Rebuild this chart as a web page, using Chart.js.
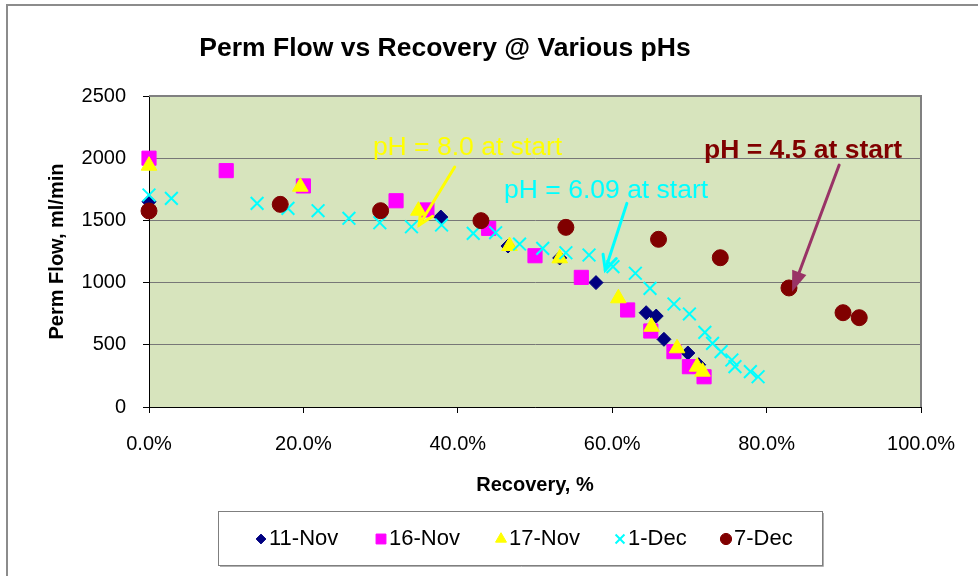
<!DOCTYPE html>
<html>
<head>
<meta charset="utf-8">
<script src="https://cdn.jsdelivr.net/npm/chart.js@4/dist/chart.umd.min.js"></script>
<style>
  body { margin: 0; background: #fff; }
  canvas { display: block; }
</style>
</head>
<body>
<canvas id="permChart" width="978" height="576"></canvas>
<script>
// Recovery (%) and permeate flow (ml/min) for each run
const rec11Nov  = [0, 37.8, 46.5, 53.2, 57.9, 64.4, 65.7, 66.7, 69.8, 71.2];
const flow11Nov = [1650, 1527, 1294, 1198, 1000, 758, 731, 544, 434, 340];

const rec16Nov  = [0, 10.0, 20.0, 32.0, 36.0, 44.0, 50.0, 56.0, 62.0, 65.0, 68.0, 70.0, 71.9];
const flow16Nov = [2000, 1900, 1777, 1658, 1584, 1436, 1216, 1042, 780, 611, 445, 324, 243];

const rec17Nov  = [0, 19.6, 34.9, 46.7, 53.2, 60.8, 65.1, 68.4, 71.0, 71.7];
const flow17Nov = [1940, 1771, 1578, 1294, 1195, 874, 645, 472, 324, 284];

const rec1Dec  = [0, 2.9, 14.0, 18.0, 21.9, 25.9, 29.9, 34.0, 37.9, 42.0, 44.9, 48.0, 51.0, 54.0,
                  57.0, 60.1, 63.0, 64.9, 68.0, 70.0, 72.0, 73.0, 74.1, 75.5, 75.9, 77.9, 78.9];
const flow1Dec = [1704, 1677, 1637, 1597, 1578, 1517, 1481, 1449, 1463, 1396, 1401, 1310, 1275, 1240,
                  1222, 1128, 1075, 954, 828, 748, 600, 512, 445, 378, 324, 284, 243];

const rec7Dec  = [0, 17.0, 30.0, 43.0, 54.0, 66.0, 74.0, 82.9, 89.9, 92.0];
const flow7Dec = [1576, 1629, 1578, 1498, 1444, 1348, 1200, 957, 758, 718];

const seriesNames = ["11-Nov", "16-Nov", "17-Nov", "1-Dec", "7-Dec"];
const xTicks = [0, 20, 40, 60, 80, 100];
const yTicks = [0, 500, 1000, 1500, 2000, 2500];

// notes: text, where the text starts and where the arrow goes (data units)
const noteTexts  = ["pH = 8.0 at start", "pH = 6.09 at start", "pH = 4.5 at start"];
const noteAt     = [[29.0, 2026], [46.0, 1680], [71.9, 2002]];
const arrowFrom  = [[39.6, 1929], [61.9, 1637], [89.4, 1945]];
const arrowTo    = [[35.0, 1463], [59.1, 1101], [83.3, 927]];

const FONT = "'Liberation Sans', Arial, sans-serif";

const styles = [
  { pointStyle: "rectRot",  radius: 7,   color: "#000080" },
  { pointStyle: "rect",     radius: 10,  color: "#ff00ff" },
  { pointStyle: "triangle", radius: 9,   color: "#ffff00" },
  { pointStyle: "crossRot", radius: 9,   color: "#00ffff" },
  { pointStyle: "circle",   radius: 8,   color: "#800000" }
];
const noteStyles = [
  { color: "#ffff00", bold: false, arrow: "#ffff00", filled: false },
  { color: "#00ffff", bold: false, arrow: "#00ffff", filled: false },
  { color: "#800000", bold: true,  arrow: "#993366", filled: true }
];

function toPoints(xs, ys) {
  return xs.map((x, i) => ({ x: x, y: ys[i] }));
}

const allRec = [rec11Nov, rec16Nov, rec17Nov, rec1Dec, rec7Dec];
const allFlow = [flow11Nov, flow16Nov, flow17Nov, flow1Dec, flow7Dec];

// later series sit on top, like in the spreadsheet
const datasets = seriesNames.map((name, i) => ({
  label: name,
  data: toPoints(allRec[i], allFlow[i]),
  order: seriesNames.length - i,
  pointStyle: styles[i].pointStyle,
  pointRadius: styles[i].radius,
  pointHoverRadius: styles[i].radius,
  backgroundColor: styles[i].color,
  borderColor: styles[i].color,
  borderWidth: i === 3 ? 2 : 1,
  showLine: false,
  clip: false
}));

function drawArrow(ctx, x1, y1, x2, y2, color, filled) {
  const ang = Math.atan2(y2 - y1, x2 - x1);
  const len = filled ? 22 : 16, spread = filled ? 0.35 : 0.45;
  ctx.save();
  ctx.strokeStyle = color;
  ctx.fillStyle = color;
  ctx.lineWidth = 3;
  ctx.lineCap = "round";
  ctx.beginPath();
  ctx.moveTo(x1, y1);
  ctx.lineTo(filled ? x2 - (len - 4) * Math.cos(ang) : x2, filled ? y2 - (len - 4) * Math.sin(ang) : y2);
  ctx.stroke();
  ctx.beginPath();
  ctx.moveTo(x2 - len * Math.cos(ang - spread), y2 - len * Math.sin(ang - spread));
  ctx.lineTo(x2, y2);
  ctx.lineTo(x2 - len * Math.cos(ang + spread), y2 - len * Math.sin(ang + spread));
  if (filled) { ctx.closePath(); ctx.fill(); } else { ctx.stroke(); }
  ctx.restore();
}

const decorPlugin = {
  id: "decor",
  beforeDraw(chart) {
    const { ctx, chartArea: a } = chart;
    ctx.save();
    // outer chart frame (only top and left show)
    ctx.strokeStyle = "#8c8c8c";
    ctx.lineWidth = 2;
    ctx.beginPath();
    ctx.moveTo(7, 578);
    ctx.lineTo(7, 5);
    ctx.lineTo(980, 5);
    ctx.stroke();
    // plot background
    ctx.fillStyle = "#d7e4bd";
    ctx.fillRect(a.left, a.top, a.right - a.left, a.bottom - a.top);
    ctx.restore();
  },
  beforeDatasetsDraw(chart) {
    const { ctx, chartArea: a } = chart;
    ctx.save();
    ctx.strokeStyle = "#808080";
    ctx.lineWidth = 2;
    ctx.beginPath();
    ctx.moveTo(a.left, a.top);
    ctx.lineTo(a.right, a.top);
    ctx.lineTo(a.right, a.bottom);
    ctx.stroke();
    ctx.restore();
  },
  afterDraw(chart) {
    const { ctx } = chart;
    const xs = chart.scales.x, ys = chart.scales.y;
    ctx.save();
    // title
    ctx.fillStyle = "#000";
    ctx.font = "bold 26.5px " + FONT;
    ctx.textAlign = "center";
    ctx.textBaseline = "alphabetic";
    ctx.fillText("Perm Flow vs Recovery @ Various pHs", 445, 56);

    // pH notes with arrows
    noteTexts.forEach((t, i) => {
      const s = noteStyles[i];
      drawArrow(ctx,
        xs.getPixelForValue(arrowFrom[i][0]), ys.getPixelForValue(arrowFrom[i][1]),
        xs.getPixelForValue(arrowTo[i][0]), ys.getPixelForValue(arrowTo[i][1]),
        s.arrow, s.filled);
      ctx.fillStyle = s.color;
      ctx.font = (s.bold ? "bold " : "") + "26.5px " + FONT;
      ctx.textAlign = "left";
      ctx.fillText(t, xs.getPixelForValue(noteAt[i][0]), ys.getPixelForValue(noteAt[i][1]));
    });

    // legend box
    const box = { left: 218, top: 511, width: 604, height: 54 };
    ctx.strokeStyle = "#7f7f7f";
    ctx.lineWidth = 1;
    ctx.strokeRect(box.left + 0.5, box.top + 0.5, box.width, box.height);
    ctx.strokeStyle = "#b0b0b0";
    ctx.beginPath();
    ctx.moveTo(box.left + 2, box.top + box.height + 1.5);
    ctx.lineTo(box.left + box.width + 1.5, box.top + box.height + 1.5);
    ctx.lineTo(box.left + box.width + 1.5, box.top + 2);
    ctx.stroke();

    const markX = [261, 381, 501, 620, 726];
    const cy = box.top + box.height / 2 + 1;
    ctx.font = "22px " + FONT;
    ctx.textBaseline = "middle";
    seriesNames.forEach((name, i) => {
      const st = styles[i];
      ctx.fillStyle = st.color;
      ctx.strokeStyle = st.color;
      ctx.lineWidth = i === 3 ? 2 : 1;
      Chart.helpers.drawPoint(ctx, {
        pointStyle: st.pointStyle,
        radius: st.pointStyle === "rect" ? 7 : st.radius * 0.7,
        rotation: 0,
        borderWidth: ctx.lineWidth
      }, markX[i], cy);
      ctx.fillStyle = "#000";
      ctx.fillText(name, markX[i] + 8, cy);
    });
    ctx.restore();
  }
};

new Chart(document.getElementById("permChart"), {
  type: "scatter",
  data: { datasets: datasets },
  plugins: [decorPlugin],
  options: {
    responsive: false,
    animation: false,
    devicePixelRatio: 1,
    layout: { padding: { left: 0, top: 96, right: 57, bottom: 0 } },
    plugins: {
      legend: { display: false },
      title: { display: false },
      tooltip: { enabled: false }
    },
    scales: {
      x: {
        type: "linear",
        min: 0,
        max: 100,
        afterBuildTicks: (scale) => { scale.ticks = xTicks.map(v => ({ value: v })); },
        afterFit: (scale) => { scale.height = 169; },
        border: { color: "#000", width: 1 },
        grid: { drawOnChartArea: false, drawTicks: true, tickLength: 6, tickColor: "#000" },
        ticks: {
          color: "#000",
          padding: 19,
          maxRotation: 0,
          font: { family: FONT, size: 20 },
          callback: (v) => v.toFixed(1) + "%"
        },
        title: {
          display: true,
          text: "Recovery, %",
          color: "#000",
          font: { family: FONT, size: 20, weight: "bold" },
          padding: { top: 0, bottom: 79 }
        }
      },
      y: {
        type: "linear",
        min: 0,
        max: 2500,
        afterBuildTicks: (scale) => { scale.ticks = yTicks.map(v => ({ value: v })); },
        afterFit: (scale) => { scale.width = 149; },
        border: { color: "#000", width: 1 },
        grid: { color: "#777", lineWidth: 1, drawTicks: true, tickLength: 6, tickColor: "#000" },
        ticks: {
          color: "#000",
          padding: 17,
          font: { family: FONT, size: 20 },
          callback: (v) => String(v)
        },
        title: {
          display: true,
          text: "Perm Flow, ml/min",
          color: "#000",
          font: { family: FONT, size: 20, weight: "bold" },
          padding: { top: 45, bottom: 0 }
        }
      }
    }
  }
});
</script>
</body>
</html>
